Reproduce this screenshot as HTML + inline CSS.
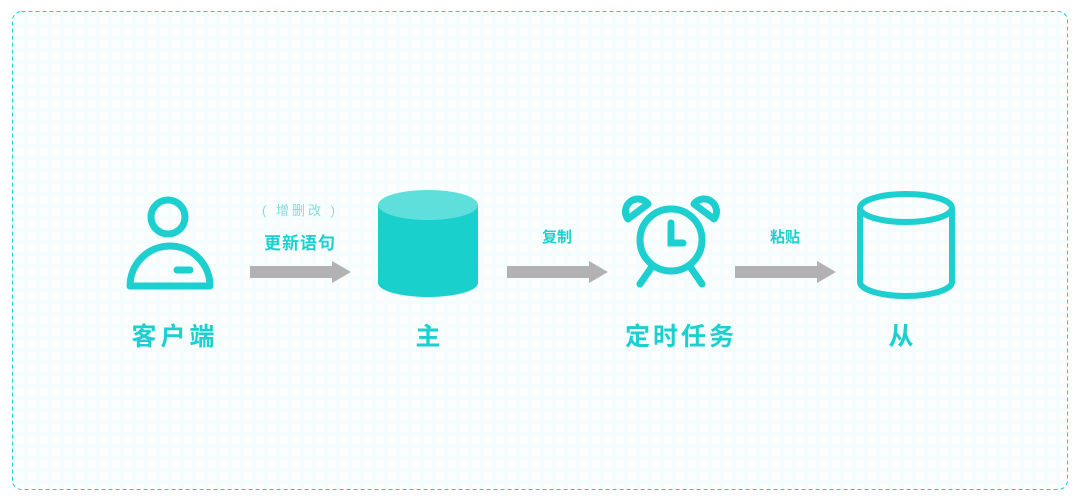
<!DOCTYPE html>
<html><head><meta charset="utf-8"><style>
html,body{margin:0;padding:0;background:#fff;}
body{width:1080px;height:500px;overflow:hidden;position:relative;font-family:"Liberation Sans","Noto Sans CJK SC",sans-serif;}
.t{position:absolute;color:#1dcfcf;white-space:nowrap;transform:translateX(-50%);font-weight:bold;}
</style></head><body>
<svg width="1080" height="500" style="position:absolute;left:0;top:0">
<defs>
<pattern id="g" width="12" height="12" patternUnits="userSpaceOnUse">
<rect width="12" height="12" fill="#fcfefe"/>
<rect width="12" height="4" fill="#f4fcfd"/>
<rect width="4" height="12" fill="#f4fcfd"/>
</pattern>
</defs>
<rect x="12.5" y="11.5" width="1055" height="478" rx="9" fill="url(#g)" stroke="#1fcfd0" stroke-width="1" stroke-dasharray="4,3"/>
<!-- person -->
<circle cx="168" cy="217" r="17" fill="none" stroke="#1dcfcf" stroke-width="7"/>
<path d="M130 286 A40 40 0 0 1 210 286 Z" fill="none" stroke="#1dcfcf" stroke-width="7" stroke-linejoin="round"/>
<line x1="177" y1="270" x2="190" y2="270" stroke="#1dcfcf" stroke-width="7" stroke-linecap="round"/>
<!-- arrows -->
<g fill="#b2b2b2">
<rect x="250" y="266" width="84" height="12"/><polygon points="332,261 351,272 332,283"/>
<rect x="507" y="266" width="84" height="12"/><polygon points="589,261 608,272 589,283"/>
<rect x="735" y="266" width="84" height="12"/><polygon points="817,261 836,272 817,283"/>
</g>
<!-- filled cylinder -->
<path d="M378 205 L378 283 A50 14 0 0 0 478 283 L478 205 Z" fill="#1ad0cc"/>
<ellipse cx="428" cy="205" rx="50" ry="15" fill="#5fdfdc"/>
<!-- clock -->
<g fill="none" stroke="#1dcfcf" stroke-width="7" stroke-linecap="round">
<circle cx="671" cy="240" r="31"/>
<polyline points="671,223 671,243 683,243"/>
<line x1="651" y1="268" x2="640" y2="284"/>
<line x1="691" y1="268" x2="702" y2="284"/>
<path d="M628 219 A11 11 0 0 1 648 204 Z" stroke-linejoin="round"/>
<path d="M714 219 A11 11 0 0 0 694 204 Z" stroke-linejoin="round"/>
</g>
<!-- hollow cylinder -->
<g fill="none" stroke="#1dcfcf" stroke-width="6">
<ellipse cx="906" cy="208" rx="46" ry="14"/>
<path d="M860 208 L860 282 A46 14 0 0 0 952 282 L952 208"/>
</g>
</svg>
<div class="t" style="left:300px;top:200px;font-size:13px;color:#7fdede;letter-spacing:3px;font-weight:normal">( 增删改 )</div>
<div class="t" style="left:300px;top:229px;font-size:17px;letter-spacing:1px">更新语句</div>
<div class="t" style="left:557px;top:226px;font-size:15px">复制</div>
<div class="t" style="left:785px;top:226px;font-size:15px">粘贴</div>
<div class="t" style="left:175px;top:317px;font-size:25px;letter-spacing:4px">客户端</div>
<div class="t" style="left:428px;top:317px;font-size:25px">主</div>
<div class="t" style="left:681px;top:317px;font-size:25px;letter-spacing:3px">定时任务</div>
<div class="t" style="left:901px;top:317px;font-size:25px">从</div>
</body></html>
